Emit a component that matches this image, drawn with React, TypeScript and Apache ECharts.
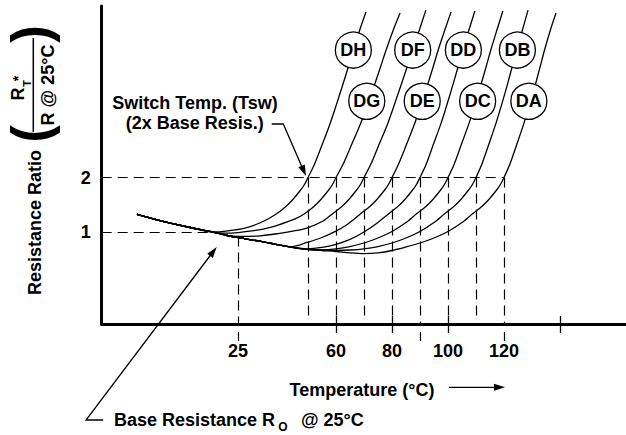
import React, { useEffect, useRef } from "react";
import * as echarts from "echarts";

const FONT = '"Liberation Sans", Arial, Helvetica, sans-serif';

// Axis extents (temperature in °C, resistance ratio on a log scale)
const X_MIN = -23.7;
const X_MAX = 163.6;
const Y_MIN = 0.3156;
const Y_MAX = 17.37;

// Tick labels / ticks
const xLabelValues = [25, 60, 80, 100, 120];
const xTickValues = [60, 80, 100, 140];
const ratioGuides = [1, 2];
const baseTemp = 25;
const ratioOneEndTemp = 16;
const switchTemps = [50, 60, 70, 80, 90, 100, 110, 120];
const guidesBelowAxis = [25, 90, 120];

// Curves: [temperature °C, R_T / R@25°C]
const curveDH = [
  [-11.1, 1.258], [-2.9, 1.163], [7.9, 1.065], [16.1, 1.006], [21.4, 1.022], [27.5, 1.058],
  [31.4, 1.106], [35.4, 1.178], [38.9, 1.271], [42.1, 1.388], [44.6, 1.516], [47.1, 1.687],
  [48.75, 1.831], [50, 2], [52.2, 2.34], [55.0, 3.01], [58.1, 4.03], [61.6, 5.88],
  [64.4, 8.05], [66.2, 9.97], [68.6, 13.0], [70.7, 16.1],
];
const curveDG = [
  [-11.1, 1.258], [-2.9, 1.163], [7.9, 1.065], [16.1, 1.006], [22.1, 0.991], [27.5, 1.01],
  [33.6, 1.041], [39.3, 1.099], [45.4, 1.186], [48.9, 1.271], [52.1, 1.388], [54.6, 1.516],
  [57.1, 1.687], [58.75, 1.831], [60, 2], [62.4, 2.34], [65.5, 3.01], [69.0, 4.03],
  [72.9, 5.88], [75.9, 8.05], [77.9, 9.97], [80.6, 13.0], [82.9, 15.9],
];
const curveDF = [
  [-11.1, 1.258], [-2.9, 1.163], [7.9, 1.065], [16.1, 1.006], [21.1, 0.963], [25.7, 0.952],
  [32.9, 0.959], [39.3, 0.986], [44.6, 1.017], [49.6, 1.058], [55.4, 1.156], [58.9, 1.271],
  [62.1, 1.388], [64.6, 1.516], [67.1, 1.687], [68.75, 1.831], [70, 2], [72.3, 2.34],
  [75.3, 3.01], [78.7, 4.03], [82.4, 5.88], [85.4, 8.05], [87.3, 9.97], [89.9, 13.0], [92.1, 16.5],
];
const curveDE = [
  [-11.1, 1.258], [-2.9, 1.163], [7.9, 1.065], [16.1, 1.006], [21.1, 0.963], [27.5, 0.924],
  [33.6, 0.891], [38.9, 0.859], [44.3, 0.837], [49.6, 0.882], [55.0, 0.939], [60, 1.017],
  [63.2, 1.085], [66.1, 1.171], [68.9, 1.271], [72.1, 1.388], [74.6, 1.516], [77.1, 1.687],
  [78.75, 1.831], [80, 2], [82.2, 2.34], [85.1, 3.01], [88.3, 4.03], [91.9, 5.88],
  [94.7, 8.05], [96.5, 9.97], [99.0, 13.0], [101.1, 16.1],
];
const curveDD = [
  [-11.1, 1.258], [-2.9, 1.163], [7.9, 1.065], [16.1, 1.006], [21.1, 0.963], [27.5, 0.924],
  [33.6, 0.891], [38.9, 0.859], [44.3, 0.83], [49.6, 0.814], [55.0, 0.828], [60, 0.86],
  [65, 0.916], [70, 1.006], [75, 1.134], [78.9, 1.271], [82.1, 1.388], [84.6, 1.516],
  [87.1, 1.687], [88.75, 1.831], [90, 2], [92.1, 2.34], [94.7, 3.01], [97.7, 4.03],
  [101.0, 5.88], [103.6, 8.05], [105.3, 9.97], [107.6, 13.0], [109.6, 16.3],
];
const curveDC = [
  [-11.1, 1.258], [-2.9, 1.163], [7.9, 1.065], [16.1, 1.006], [21.1, 0.963], [27.5, 0.924],
  [33.6, 0.891], [38.9, 0.859], [44.3, 0.83], [49.6, 0.809], [55.0, 0.804], [60, 0.814],
  [65, 0.838], [70, 0.876], [75, 0.933], [80, 1.013], [85, 1.134], [88.9, 1.271],
  [92.1, 1.388], [94.6, 1.516], [97.1, 1.687], [98.75, 1.831], [100, 2], [102.1, 2.34],
  [104.7, 3.01], [107.7, 4.03], [111.0, 5.88], [113.6, 8.05], [115.3, 9.97], [117.6, 13.0], [119.6, 16.3],
];
const curveDB = [
  [-11.1, 1.258], [-2.9, 1.163], [7.9, 1.065], [16.1, 1.006], [21.1, 0.963], [27.5, 0.924],
  [33.6, 0.891], [38.9, 0.859], [44.3, 0.83], [49.6, 0.809], [55.0, 0.8], [60, 0.798],
  [65, 0.802], [70, 0.814], [75, 0.838], [80, 0.876], [85, 0.933], [90, 1.013],
  [95, 1.134], [98.9, 1.271], [102.1, 1.388], [104.6, 1.516], [107.1, 1.687], [108.75, 1.831],
  [110, 2], [112.0, 2.34], [114.5, 3.01], [117.3, 4.03], [120.5, 5.88], [122.9, 8.05],
  [124.5, 9.97], [126.7, 13.0], [128.6, 16.5],
];
const curveDA = [
  [-11.1, 1.258], [-2.9, 1.163], [7.9, 1.065], [16.1, 1.006], [21.1, 0.963], [27.5, 0.924],
  [33.6, 0.891], [38.9, 0.859], [44.3, 0.83], [49.6, 0.809], [55.0, 0.797], [60, 0.787],
  [65, 0.774], [70, 0.767], [75, 0.774], [80, 0.797], [85, 0.833], [90, 0.876],
  [95, 0.933], [100, 1.013], [105, 1.134], [108.9, 1.271], [112.1, 1.388], [114.6, 1.516],
  [117.1, 1.687], [118.75, 1.831], [120, 2], [122.0, 2.34], [124.5, 3.01], [127.3, 4.03],
  [130.5, 5.88], [132.9, 8.05], [134.5, 9.97], [136.7, 13.0], [138.6, 15.9],
];

const curveNames = ["DH", "DG", "DF", "DE", "DD", "DC", "DB", "DA"];
const curves = [curveDH, curveDG, curveDF, curveDE, curveDD, curveDC, curveDB, curveDA];

// Circle tags sitting on the curves
const tagTemps = [66.2, 71.0, 87.4, 90.8, 105.5, 110.6, 124.8, 128.9];
const tagRatios = [9.97, 5.23, 9.97, 5.23, 9.97, 5.23, 9.97, 5.23];

const BLACK = "#000";
const DASH = [10, 6];

function txt(text: string, x: number, y: number, extra: any = {}, rot = 0) {
  return {
    type: "text",
    x,
    y,
    rotation: rot,
    silent: true,
    style: {
      text,
      fill: BLACK,
      fontSize: 18,
      fontWeight: "bold",
      fontFamily: FONT,
      align: "center",
      verticalAlign: "middle",
      ...extra,
    },
  };
}

export default function App() {
  const ref = useRef<HTMLDivElement>(null);

  useEffect(() => {
    if (!ref.current) return;
    const chart = echarts.init(ref.current, null, { renderer: "svg" });

    const horizontalGuides = ratioGuides.map((r) => [
      { coord: [X_MIN, r], name: String(r) },
      { coord: [r === 1 ? ratioOneEndTemp : switchTemps[switchTemps.length - 1], r] },
    ]);
    const verticalGuides = [
      [{ coord: [baseTemp, 0.95] }, { coord: [baseTemp, Y_MIN] }],
      ...switchTemps.map((t) => [
        { coord: [t, 2] },
        { coord: [t, guidesBelowAxis.includes(t) ? Y_MIN : 0.349] },
      ]),
    ];

    const baseX = { type: "value", min: X_MIN, max: X_MAX, position: "bottom", splitLine: { show: false } };

    const option: any = {
      animation: false,
      backgroundColor: "#fff",
      grid: { left: 101.7, right: 0, top: 6, bottom: 111, containLabel: false, outerBoundsMode: "none" },
      xAxis: [
        {
          ...baseX,
          axisLine: { show: true, onZero: false, lineStyle: { color: BLACK, width: 3 } },
          axisTick: { show: true, inside: false, length: 9, customValues: xTickValues, lineStyle: { color: BLACK, width: 1.3 } },
          axisLabel: {
            show: true,
            customValues: xLabelValues,
            margin: 18,
            color: BLACK,
            fontSize: 18,
            fontWeight: "bold",
            fontFamily: FONT,
          },
        },
        {
          ...baseX,
          axisLine: { show: false, onZero: false },
          axisTick: { show: true, inside: true, length: 8, customValues: xTickValues, lineStyle: { color: BLACK, width: 1.3 } },
          axisLabel: { show: false },
        },
        {
          ...baseX,
          axisLine: { show: false, onZero: false },
          axisTick: {
            show: true,
            inside: false,
            length: 17,
            customValues: guidesBelowAxis,
            lineStyle: { color: BLACK, width: 1.2, type: [0, 8, 9, 100] },
          },
          axisLabel: { show: false },
        },
      ],
      yAxis: {
        type: "log",
        logBase: 10,
        min: Y_MIN,
        max: Y_MAX,
        axisLine: { show: true, onZero: false, lineStyle: { color: BLACK, width: 3 } },
        axisTick: { show: false },
        axisLabel: { show: false },
        splitLine: { show: false },
      },
      series: [
        {
          type: "line",
          data: [],
          silent: true,
          z: 2,
          markLine: {
            silent: true,
            symbol: ["none", "none"],
            lineStyle: { color: BLACK, width: 1.2, type: DASH },
            label: {
              show: true,
              position: "start",
              formatter: "{b}",
              distance: 11,
              color: BLACK,
              fontSize: 18,
              fontWeight: "bold",
              fontFamily: FONT,
            },
            emphasis: { disabled: true },
            data: horizontalGuides,
          },
        },
        {
          type: "line",
          data: [],
          silent: true,
          z: 2,
          markLine: {
            silent: true,
            symbol: ["none", "none"],
            lineStyle: { color: BLACK, width: 1.2, type: DASH },
            label: { show: false },
            emphasis: { disabled: true },
            data: verticalGuides,
          },
        },
        ...curves.map((data, i) => ({
          type: "line",
          name: curveNames[i],
          data,
          showSymbol: false,
          symbol: "none",
          smooth: 0.3,
          silent: true,
          z: 3,
          lineStyle: { color: BLACK, width: 1.3 },
        })),
        {
          type: "scatter",
          silent: true,
          z: 5,
          symbol: "circle",
          symbolSize: 36,
          data: curveNames.map((n, i) => ({ name: n, value: [tagTemps[i], tagRatios[i]] })),
          itemStyle: { color: "#fff", borderColor: BLACK, borderWidth: 1.3, opacity: 1 },
          label: {
            show: true,
            position: "inside",
            formatter: "{b}",
            color: BLACK,
            fontSize: 18,
            fontWeight: "bold",
            fontFamily: FONT,
          },
        },
      ],
      graphic: [
        // Y-axis title (rotated)
        txt("Resistance Ratio", 35, 222.5, {}, Math.PI / 2),
        txt("(", 30.4, 134, { fontSize: 53 }, Math.PI / 2),
        txt(")", 30.4, 34, { fontSize: 53 }, Math.PI / 2),
        {
          type: "line",
          silent: true,
          shape: { x1: 33.3, y1: 38, x2: 33.3, y2: 132 },
          style: { stroke: BLACK, lineWidth: 1.5 },
        },
        txt("R", 17.5, 94, {}, Math.PI / 2),
        txt("T", 26.5, 83.5, { fontSize: 11 }, Math.PI / 2),
        txt("*", 17.5, 78.5, { fontSize: 14 }, Math.PI / 2),
        txt("R @ 25°C", 47.5, 85, {}, Math.PI / 2),
        // Switch temperature annotation
        txt("Switch Temp. (Tsw)", 195, 103.3),
        txt("(2x Base Resis.)", 194.7, 123),
        {
          type: "polyline",
          silent: true,
          shape: { points: [[271.7, 124], [283.3, 124], [302, 167]] },
          style: { stroke: BLACK, lineWidth: 1.3, fill: null },
        },
        {
          type: "polygon",
          silent: true,
          shape: { points: [[306, 176], [298.39, 167.32], [304.81, 164.52]] },
          style: { fill: BLACK },
        },
        // X title with arrow
        txt("Temperature (°C)", 362, 389.5),
        {
          type: "line",
          silent: true,
          shape: { x1: 449, y1: 387.3, x2: 496, y2: 387.3 },
          style: { stroke: BLACK, lineWidth: 1.3 },
        },
        {
          type: "polygon",
          silent: true,
          shape: { points: [[505, 387.3], [494, 383.8], [494, 390.8]] },
          style: { fill: BLACK },
        },
        // Base resistance annotation
        txt("Base Resistance R", 114, 419.5, { align: "left" }),
        txt("O", 283, 426.5, { fontSize: 12 }),
        txt("@ 25°C", 301, 419.5, { align: "left" }),
        {
          type: "polyline",
          silent: true,
          shape: { points: [[103.2, 420], [86, 420], [211, 254.5]] },
          style: { stroke: BLACK, lineWidth: 1.3, fill: null },
        },
        {
          type: "polygon",
          silent: true,
          shape: { points: [[216.7, 247], [212.86, 257.89], [207.28, 253.67]] },
          style: { fill: BLACK },
        },
      ],
    };

    chart.setOption(option);
    return () => chart.dispose();
  }, []);

  return (
    <div
      ref={ref}
      style={{ position: "absolute", left: 0, top: 0, width: 626, height: 435, background: "#fff" }}
    />
  );
}
